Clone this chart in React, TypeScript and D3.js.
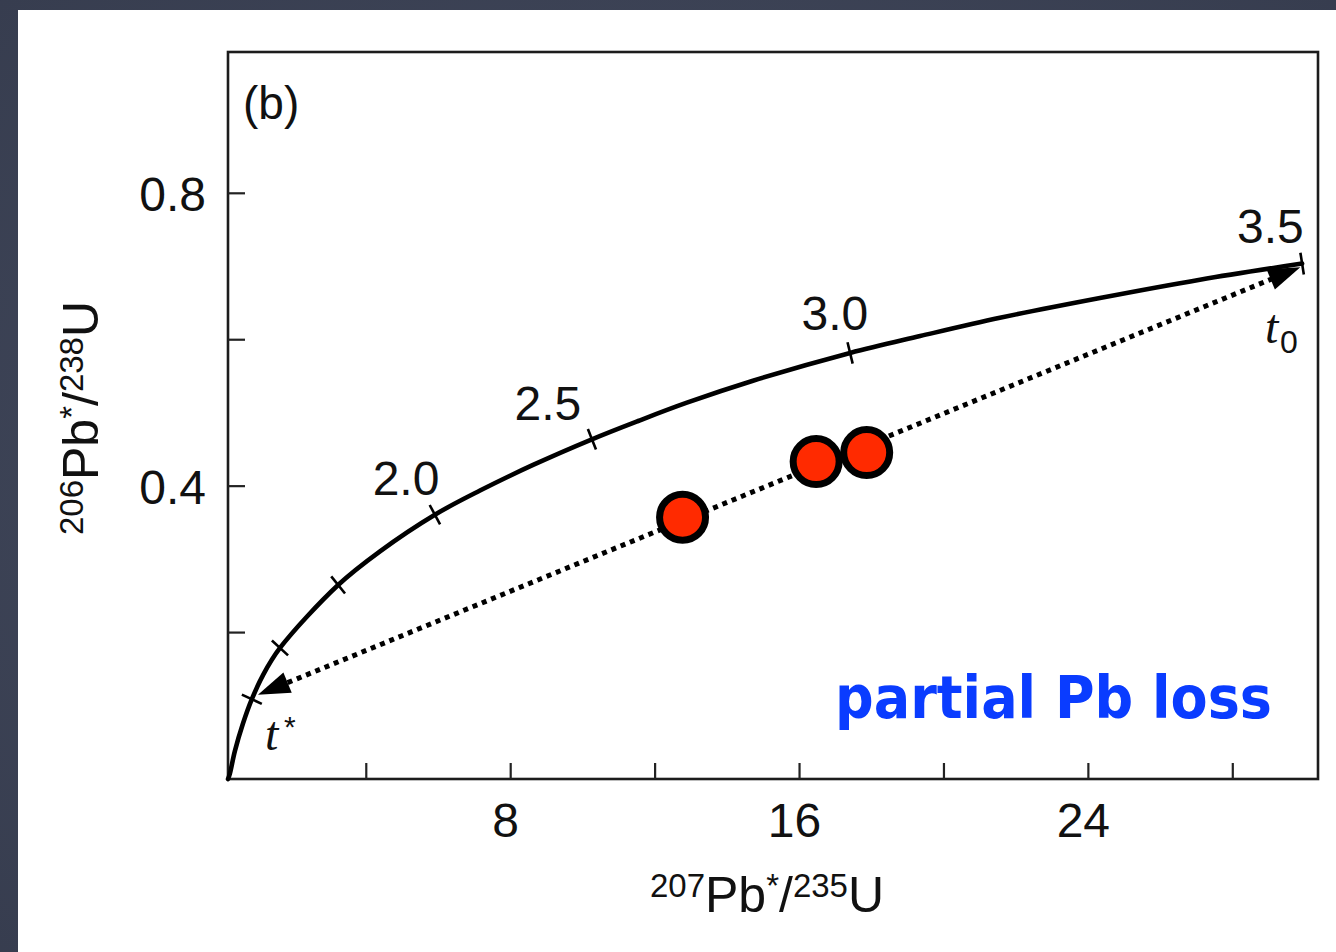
import React from 'react';
import * as d3 from 'd3';

const W = 1336;
const H = 952;

// Concordia curve points (207Pb*/235U, 206Pb*/238U)
const concordiaX = [0.17, 0.22, 0.36, 0.58, 0.83, 1.14, 1.61, 3.22, 4.38, 5.90, 7.15, 8.62, 10.25, 11.53, 12.88, 14.71, 17.40, 19.34, 21.55, 24.32, 27.09, 29.92];
const concordiaY = [0.0, 0.007, 0.038, 0.075, 0.109, 0.142, 0.179, 0.265, 0.311, 0.361, 0.394, 0.429, 0.464, 0.489, 0.514, 0.544, 0.582, 0.605, 0.630, 0.657, 0.682, 0.704];

// Age ticks (Ga) on the concordia
const ageTickX = [0.83, 1.61, 3.22, 5.90, 10.25, 17.40, 29.92];
const ageTickY = [0.109, 0.179, 0.265, 0.361, 0.464, 0.582, 0.704];

// Age labels and their anchor positions (data coords)
const ageLabels = ['2.0', '2.5', '3.0', '3.5'];
const ageLabelX = [5.10, 9.03, 16.98, 29.04];
const ageLabelY = [0.388, 0.490, 0.613, 0.732];

// Discordia end points
const tStar = { x: 1.0, y: 0.115 };
const tZero = { x: 29.87, y: 0.699 };

// Samples (red points)
const sampleX = [12.76, 16.46, 17.86];
const sampleY = [0.3575, 0.4335, 0.4458];

// Axis ticks
const xTicks = [4, 8, 12, 16, 20, 24, 28];
const xTickLabels = ['', '8', '', '16', '', '24', ''];
const yTicks = [0.2, 0.4, 0.6, 0.8];
const yTickLabels = ['', '0.4', '', '0.8'];

const FONT = "'Liberation Sans', Arial, Helvetica, sans-serif";

export default function App() {
  const x = d3.scaleLinear().domain([0.17, 30.36]).range([228, 1318]);
  const y = d3.scaleLinear().domain([0, 0.993]).range([779, 52]);

  const pts: [number, number][] = concordiaX.map((v, i) => [x(v), y(concordiaY[i])]);
  const line = d3.line().curve(d3.curveCatmullRom.alpha(0.5));
  const concordiaPath = line(pts) || '';

  // tick marks perpendicular to curve
  const tickMarks = ageTickX.map((v, i) => {
    const px = x(v), py = y(ageTickY[i]);
    let k = pts.length - 2;
    for (let j = 0; j < pts.length - 1; j++) {
      if (pts[j][0] <= px && pts[j + 1][0] > px) { k = j; break; }
    }
    const a = pts[Math.max(0, k)], b = pts[Math.min(pts.length - 1, k + 1)];
    const dx = b[0] - a[0];
    const dy = b[1] - a[1];
    const len = Math.hypot(dx, dy) || 1;
    const nx = -dy / len, ny = dx / len;
    const h = 11;
    return { x1: px - nx * h, y1: py - ny * h, x2: px + nx * h, y2: py + ny * h };
  });

  // discordia
  const ax = x(tStar.x), ay = y(tStar.y), bx = x(tZero.x), by = y(tZero.y);
  const L = Math.hypot(bx - ax, by - ay);
  const ux = (bx - ax) / L, uy = (by - ay) / L;
  const aLen = 32, aHalf = 11;
  const arrow = (tx: number, ty: number, dx: number, dy: number) => {
    const bxc = tx + dx * aLen, byc = ty + dy * aLen;
    const nx = -dy, ny = dx;
    return `M${tx},${ty}L${bxc + nx * aHalf},${byc + ny * aHalf}L${bxc - nx * aHalf},${byc - ny * aHalf}Z`;
  };

  return (
    <svg width={W} height={H} style={{ position: 'absolute', left: 0, top: 0 }} fontFamily={FONT}>
      <defs>
        <radialGradient id="bg" cx="50%" cy="50%" r="75%">
          <stop offset="0%" stopColor="#464d61" />
          <stop offset="100%" stopColor="#363c4e" />
        </radialGradient>
      </defs>
      <rect x={0} y={0} width={W} height={H} fill="url(#bg)" />
      <rect x={18} y={10} width={W - 18} height={H - 10} fill="#ffffff" />

      {/* frame */}
      <rect x={x(0.17)} y={y(0.993)} width={x(30.36) - x(0.17)} height={y(0) - y(0.993)} fill="none" stroke="#1c1c1c" strokeWidth={2.6} />

      {/* x ticks */}
      {xTicks.map((t, i) => (
        <g key={'xt' + i}>
          <line x1={x(t)} x2={x(t)} y1={y(0)} y2={y(0) - 16} stroke="#222" strokeWidth={2.2} />
          {xTickLabels[i] && (
            <text x={x(t) - 5} y={837} textAnchor="middle" fontSize={48} fill="#111">{xTickLabels[i]}</text>
          )}
        </g>
      ))}

      {/* y ticks */}
      {yTicks.map((t, i) => (
        <g key={'yt' + i}>
          <line x1={x(0.17)} x2={x(0.17) + 17} y1={y(t)} y2={y(t)} stroke="#222" strokeWidth={2.2} />
          {yTickLabels[i] && (
            <text x={206} y={y(t) + 18} textAnchor="end" fontSize={48} fill="#111">{yTickLabels[i]}</text>
          )}
        </g>
      ))}

      {/* axis titles */}
      <text x={767} y={912} textAnchor="middle" fontSize={50} fill="#111">
        <tspan fontSize={33} dy={-15}>207</tspan>
        <tspan dy={15}>Pb</tspan>
        <tspan fontSize={33} dy={-15}>*</tspan>
        <tspan dy={15}>/</tspan>
        <tspan fontSize={33} dy={-15}>235</tspan>
        <tspan dy={15}>U</tspan>
      </text>
      <text transform="translate(98,418) rotate(-90)" textAnchor="middle" fontSize={50} fill="#111">
        <tspan fontSize={33} dy={-15}>206</tspan>
        <tspan dy={15}>Pb</tspan>
        <tspan fontSize={33} dy={-15}>*</tspan>
        <tspan dy={15}>/</tspan>
        <tspan fontSize={33} dy={-15}>238</tspan>
        <tspan dy={15}>U</tspan>
      </text>

      {/* panel label */}
      <text x={243} y={119} fontSize={46} fill="#111">(b)</text>

      {/* concordia */}
      <path d={concordiaPath} fill="none" stroke="#000" strokeWidth={4.6} strokeLinecap="round" />
      {tickMarks.map((m, i) => (
        <line key={'tm' + i} x1={m.x1} y1={m.y1} x2={m.x2} y2={m.y2} stroke="#000" strokeWidth={2.6} />
      ))}
      {ageLabels.map((l, i) => (
        <text key={'al' + i} x={x(ageLabelX[i])} y={y(ageLabelY[i])} textAnchor="middle" fontSize={48} fill="#111">{l}</text>
      ))}

      {/* discordia */}
      <line x1={ax + ux * 22} y1={ay + uy * 22} x2={bx - ux * 22} y2={by - uy * 22} stroke="#000" strokeWidth={5} strokeDasharray="5 5" />
      <path d={arrow(ax, ay, ux, uy)} fill="#000" />
      <path d={arrow(bx, by, -ux, -uy)} fill="#000" />

      {/* t labels */}
      <text x={265} y={750} fontSize={48} fontStyle="italic" fill="#111" fontFamily="'Liberation Serif', 'DejaVu Serif', serif">t</text>
      <text x={284} y={737} fontSize={30} fill="#111">*</text>
      <text x={1265} y={343} fontSize={48} fontStyle="italic" fill="#111" fontFamily="'Liberation Serif', 'DejaVu Serif', serif">t</text>
      <text x={1280} y={353} fontSize={32} fill="#111">0</text>

      {/* samples */}
      {sampleX.map((v, i) => (
        <circle key={'s' + i} cx={x(v)} cy={y(sampleY[i])} r={23} fill="#ff2a00" stroke="#000" strokeWidth={7} />
      ))}

      {/* annotation */}
      <text x={835} y={718} fontSize={58} fontWeight="bold" fill="#0a3cff" textLength={437} lengthAdjust="spacingAndGlyphs"
        fontFamily="'Comic Sans MS', 'DejaVu Sans', 'Noto Sans', sans-serif">partial Pb loss</text>
    </svg>
  );
}
